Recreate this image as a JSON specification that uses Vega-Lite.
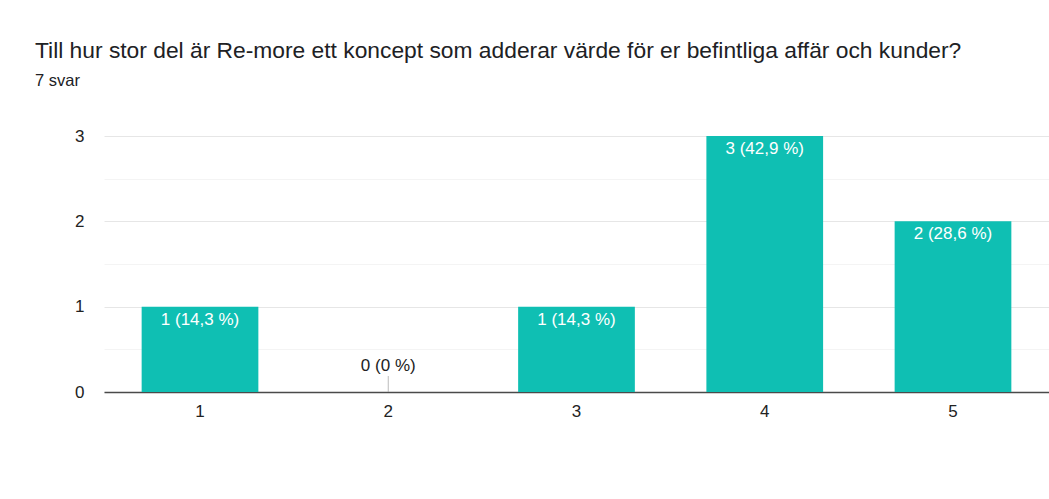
{
  "$schema": "https://vega.github.io/schema/vega-lite/v6.json",
  "autosize": "none",
  "padding": {"left": 104, "top": 136, "right": 0, "bottom": 107},
  "width": 945,
  "height": 256,
  "background": "white",
  "config": {
    "font": "Liberation Sans",
    "view": {"stroke": null}
  },
  "title": {
    "text": "Till hur stor del är Re-more ett koncept som adderar värde för er befintliga affär och kunder?",
    "subtitle": "7 svar",
    "anchor": "start",
    "frame": "group",
    "dx": -69,
    "offset": 38,
    "font": "Liberation Sans",
    "fontSize": 22.8,
    "fontWeight": "normal",
    "color": "#202124",
    "subtitleFont": "Liberation Sans",
    "subtitleFontSize": 16.5,
    "subtitleColor": "#202124",
    "subtitlePadding": 10
  },
  "data": {
    "values": [
      {"option": "1", "count": 1, "label": "1 (14,3 %)"},
      {"option": "2", "count": 0, "label": "0 (0 %)"},
      {"option": "3", "count": 1, "label": "1 (14,3 %)"},
      {"option": "4", "count": 3, "label": "3 (42,9 %)"},
      {"option": "5", "count": 2, "label": "2 (28,6 %)"}
    ]
  },
  "encoding": {
    "x": {
      "field": "option",
      "type": "nominal",
      "sort": null,
      "scale": {"paddingInner": 0.38, "paddingOuter": 0.2},
      "axis": {
        "title": null,
        "labelAngle": 0,
        "ticks": false,
        "labelPadding": 11,
        "labelFontSize": 17,
        "labelColor": "#222222",
        "labelFont": "Liberation Sans",
        "domainColor": "#4a4a4a",
        "domainWidth": 1.5,
        "grid": false
      }
    },
    "y": {
      "field": "count",
      "type": "quantitative",
      "scale": {"domain": [0, 3], "nice": false},
      "axis": {
        "title": null,
        "values": [0, 0.5, 1, 1.5, 2, 2.5, 3],
        "labelExpr": "datum.value % 1 === 0 ? format(datum.value, 'd') : ''",
        "ticks": false,
        "domain": false,
        "labelPadding": 20,
        "labelFontSize": 17,
        "labelColor": "#222222",
        "labelFont": "Liberation Sans",
        "gridColor": {"condition": {"test": "datum.value % 1 !== 0", "value": "#f4f4f4"}, "value": "#e6e6e6"}
      }
    }
  },
  "layer": [
    {"mark": {"type": "bar", "color": "#0fbfb3"}},
    {
      "transform": [{"filter": "datum.count == 0"}],
      "mark": {"type": "tick", "orient": "vertical", "size": 16, "color": "#9e9e9e", "thickness": 1, "yOffset": -8}
    },
    {
      "transform": [{"filter": "datum.count > 0"}],
      "mark": {"type": "text", "baseline": "top", "dy": 5, "color": "white", "fontSize": 17, "font": "Liberation Sans"},
      "encoding": {"text": {"field": "label"}}
    },
    {
      "transform": [{"filter": "datum.count == 0"}],
      "mark": {"type": "text", "baseline": "bottom", "dy": -17, "color": "#222222", "fontSize": 17, "font": "Liberation Sans"},
      "encoding": {"text": {"field": "label"}}
    }
  ]
}
